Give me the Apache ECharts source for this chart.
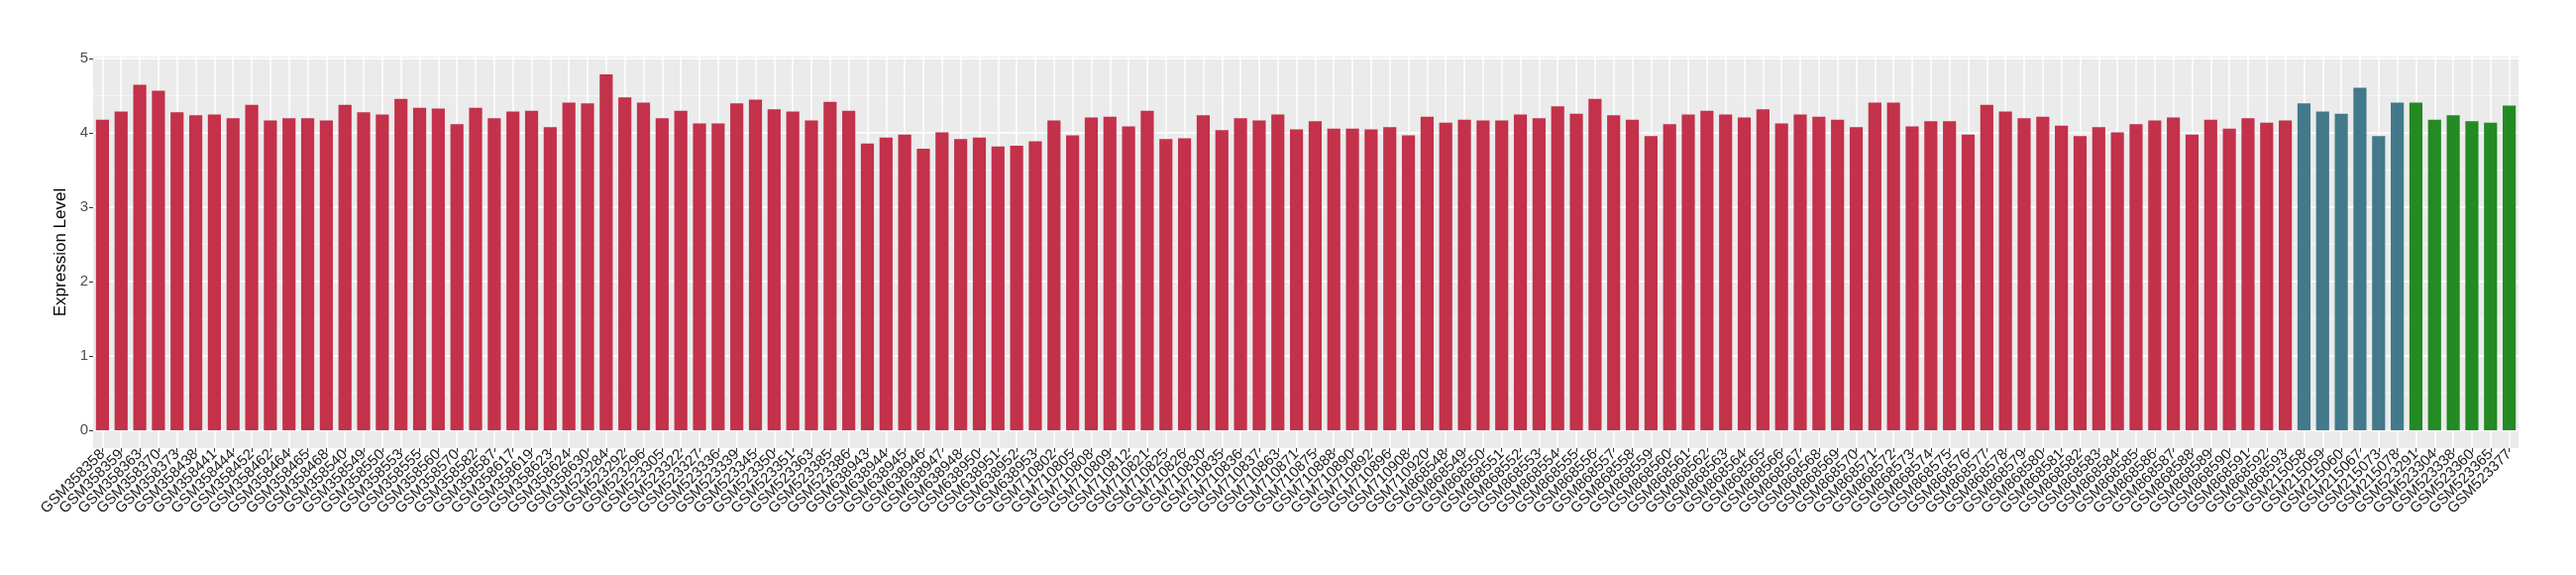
<!DOCTYPE html>
<html>
<head>
<meta charset="utf-8">
<script src="https://cdn.jsdelivr.net/npm/echarts@6/dist/echarts.min.js"></script>
<style>html,body{margin:0;padding:0;background:#fff}#c{width:2600px;height:580px}</style>
</head>
<body>
<div id="c"></div>
<script>
const redSamples = ["GSM358358","GSM358359","GSM358363","GSM358370","GSM358373","GSM358438","GSM358441","GSM358444","GSM358452","GSM358462","GSM358464","GSM358465","GSM358468","GSM358540","GSM358549","GSM358550","GSM358553","GSM358555","GSM358560","GSM358570","GSM358582","GSM358587","GSM358617","GSM358619","GSM358623","GSM358624","GSM358630",
"GSM523284","GSM523292","GSM523296","GSM523305","GSM523322","GSM523327","GSM523336","GSM523339","GSM523345","GSM523350","GSM523351","GSM523363","GSM523385","GSM523386",
"GSM638943","GSM638944","GSM638945","GSM638946","GSM638947","GSM638948","GSM638950","GSM638951","GSM638952","GSM638953",
"GSM710802","GSM710805","GSM710808","GSM710809","GSM710812","GSM710821","GSM710825","GSM710826","GSM710830","GSM710835","GSM710836","GSM710837","GSM710863","GSM710871","GSM710875","GSM710888","GSM710890","GSM710892","GSM710896","GSM710908","GSM710920",
"GSM868548","GSM868549","GSM868550","GSM868551","GSM868552","GSM868553","GSM868554","GSM868555","GSM868556","GSM868557","GSM868558","GSM868559","GSM868560","GSM868561","GSM868562","GSM868563","GSM868564","GSM868565","GSM868566","GSM868567","GSM868568","GSM868569","GSM868570","GSM868571","GSM868572","GSM868573","GSM868574","GSM868575","GSM868576","GSM868577","GSM868578","GSM868579","GSM868580","GSM868581","GSM868582","GSM868583","GSM868584","GSM868585","GSM868586","GSM868587","GSM868588","GSM868589","GSM868590","GSM868591","GSM868592","GSM868593"];
const redValues = [4.18,4.29,4.65,4.57,4.28,4.24,4.25,4.20,4.38,4.17,4.20,4.20,4.17,4.38,4.28,4.25,4.46,4.34,4.33,4.12,4.34,4.20,
4.29,4.30,4.08,4.41,4.40,4.79,4.48,4.41,4.20,4.30,4.13,4.13,4.40,4.45,4.32,4.29,4.17,4.42,4.30,3.86,3.94,3.98,
3.79,4.01,3.92,3.94,3.82,3.83,3.89,4.17,3.97,4.21,4.22,4.09,4.30,3.92,3.93,4.24,4.04,4.20,4.17,4.25,4.05,4.16,
4.06,4.06,4.05,4.08,3.97,4.22,4.14,4.18,4.17,4.17,4.25,4.20,4.36,4.26,4.46,4.24,4.18,3.96,4.12,4.25,4.30,4.25,
4.21,4.32,4.13,4.25,4.22,4.18,4.08,4.41,4.41,4.09,4.16,4.16,3.98,4.38,4.29,4.20,4.22,4.10,3.96,4.08,4.01,
4.12,4.17,4.21,3.98,4.18,4.06,4.20,4.14,4.17];
const blueSamples = ["GSM215058","GSM215059","GSM215060","GSM215067","GSM215073","GSM215078"];
const blueValues = [4.40,4.29,4.26,4.61,3.96,4.41];
const greenSamples = ["GSM523291","GSM523304","GSM523338","GSM523360","GSM523365","GSM523377"];
const greenValues = [4.41,4.18,4.24,4.16,4.14,4.37];
const yTicks = [0,1,2,3,4,5];
const yMinorTicks = [0.5,1.5,2.5,3.5,4.5];

const RED = '#C3314A', BLUE = '#427A8B', GREEN = '#238A24';
const categories = redSamples.concat(blueSamples, greenSamples);
const barData = []
  .concat(redValues.map(v => ({value: v, itemStyle: {color: RED}})))
  .concat(blueValues.map(v => ({value: v, itemStyle: {color: BLUE}})))
  .concat(greenValues.map(v => ({value: v, itemStyle: {color: GREEN}})));

const allVals = redValues.concat(blueValues, greenValues);
const vmax = Math.max(...allVals);
const yMin = -0.05 * vmax, yMax = vmax * 1.05;
const FONT = 'Liberation Sans';

const chart = echarts.init(document.getElementById('c'), null, {renderer: 'canvas'});
chart.setOption({
  animation: false,
  backgroundColor: '#ffffff',
  grid: {left: 94, right: 58, top: 57, bottom: 128, show: true, backgroundColor: '#EBEBEB', borderWidth: 0},
  xAxis: {
    type: 'category',
    data: categories,
    axisLine: {show: false, onZero: false},
    axisTick: {show: true, alignWithLabel: true, length: 4, lineStyle: {color: '#333333', width: 1}},
    splitLine: {show: true, alignWithLabel: true, lineStyle: {color: '#ffffff', width: 1.5}},
    axisLabel: {interval: 0, rotate: 45, margin: 4, fontSize: 15, color: '#1a1a1a', fontFamily: FONT}
  },
  yAxis: [{
    type: 'value',
    min: yMin, max: yMax,
    name: 'Expression Level',
    nameLocation: 'middle',
    nameGap: 19,
    nameTextStyle: {fontSize: 17, color: '#000', fontFamily: FONT},
    axisLine: {show: false},
    axisTick: {show: true, length: 4, customValues: yTicks, lineStyle: {color: '#333333', width: 1}},
    axisLabel: {customValues: yTicks, fontSize: 15, color: '#4D4D4D', margin: 5, fontFamily: FONT},
    splitLine: {show: true, lineStyle: {color: '#ffffff', width: 1.5}}
  }, {
    type: 'value',
    min: yMin, max: yMax,
    position: 'left',
    axisLine: {show: false},
    axisTick: {show: false, customValues: yMinorTicks},
    axisLabel: {show: false, customValues: yMinorTicks},
    splitLine: {show: true, lineStyle: {color: '#F7F7F7', width: 0.8}}
  }],
  series: [{
    type: 'bar',
    data: barData,
    barWidth: '70%',
    yAxisIndex: 0
  }]
});
</script>
</body>
</html>
